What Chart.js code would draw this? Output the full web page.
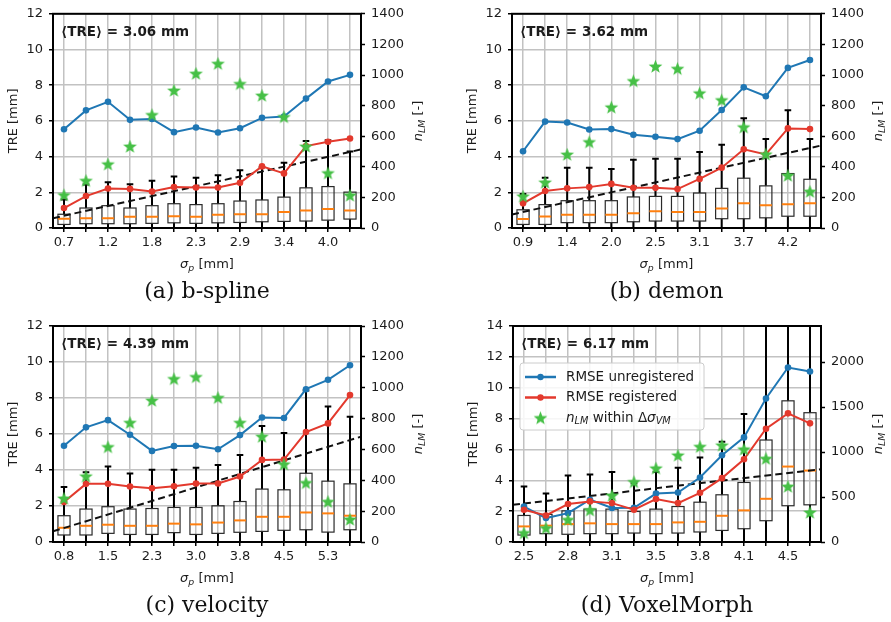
<!DOCTYPE html>
<html>
<head>
<meta charset="utf-8">
<script src="https://cdn.jsdelivr.net/npm/chart.js@4.4.1/dist/chart.umd.min.js"></script>
<style>
  body { margin: 0; background: #fff; width: 891px; height: 622px; position: relative; overflow: hidden; }
  canvas { position: absolute; left: 0; top: 0; }
</style>
</head>
<body>
<canvas id="pa" width="891" height="622"></canvas>
<canvas id="pb" width="891" height="622"></canvas>
<canvas id="pc" width="891" height="622"></canvas>
<canvas id="pd" width="891" height="622"></canvas>
<script>
// (a) b-spline
const ticksA = ['0.7', '', '1.2', '', '1.8', '', '2.3', '', '2.9', '', '3.4', '', '4.0', ''];
const unregA = [5.53, 6.59, 7.07, 6.06, 6.11, 5.37, 5.63, 5.35, 5.59, 6.17, 6.24, 7.25, 8.21, 8.58];
const regA = [1.12, 1.79, 2.21, 2.19, 2.04, 2.30, 2.27, 2.27, 2.53, 3.45, 3.06, 4.59, 4.83, 5.01];
const nlmA = [215, 309, 417, 533, 739, 899, 1009, 1074, 942, 866, 726, 533, 359, 213];
const q1A = [0.20, 0.24, 0.24, 0.24, 0.26, 0.29, 0.26, 0.29, 0.31, 0.35, 0.37, 0.39, 0.44, 0.50];
const medA = [0.52, 0.55, 0.55, 0.63, 0.63, 0.66, 0.63, 0.74, 0.77, 0.77, 0.90, 0.98, 1.07, 0.98];
const q3A = [0.77, 1.12, 1.25, 1.12, 1.25, 1.36, 1.31, 1.36, 1.51, 1.57, 1.73, 2.25, 2.32, 2.01];
const loA = [0, 0, 0, 0, 0, 0, 0, 0, 0, 0, 0, 0, 0, 0];
const hiA = [1.60, 2.43, 2.56, 2.45, 2.65, 2.88, 2.82, 2.95, 3.23, 3.40, 3.65, 4.87, 4.92, 4.28];
const fitA = [0.55, 4.40];

// (b) demon
const ticksB = ['0.9', '', '1.4', '', '2.0', '', '2.5', '', '3.1', '', '3.7', '', '4.2', ''];
const unregB = [4.30, 5.96, 5.91, 5.52, 5.54, 5.22, 5.11, 4.98, 5.45, 6.61, 7.88, 7.38, 8.97, 9.41];
const regB = [1.38, 2.07, 2.22, 2.29, 2.47, 2.25, 2.25, 2.18, 2.75, 3.38, 4.41, 4.12, 5.58, 5.54];
const nlmB = [207, 298, 480, 562, 789, 961, 1056, 1041, 881, 836, 659, 482, 343, 238];
const q1B = [0.20, 0.20, 0.30, 0.30, 0.30, 0.35, 0.39, 0.39, 0.39, 0.52, 0.52, 0.57, 0.66, 0.66];
const medB = [0.50, 0.65, 0.74, 0.74, 0.74, 0.83, 0.94, 0.89, 0.89, 1.09, 1.38, 1.27, 1.33, 1.38];
const q3B = [1.02, 1.31, 1.53, 1.53, 1.53, 1.74, 1.77, 1.77, 1.96, 2.22, 2.79, 2.36, 3.05, 2.73];
const loB = [0, 0, 0, 0, 0, 0, 0, 0, 0, 0, 0, 0, 0, 0];
const hiB = [1.90, 2.82, 3.38, 3.38, 3.30, 3.82, 3.88, 3.88, 4.26, 4.67, 6.15, 4.98, 6.59, 4.98];
const fitB = [0.76, 4.62];

// (c) velocity
const ticksC = ['0.8', '', '1.5', '', '2.3', '', '3.0', '', '3.8', '', '4.5', '', '5.3', ''];
const unregC = [5.35, 6.37, 6.77, 5.96, 5.06, 5.33, 5.35, 5.15, 5.94, 6.92, 6.89, 8.49, 9.01, 9.82];
const regC = [2.22, 3.23, 3.23, 3.08, 2.99, 3.10, 3.25, 3.25, 3.64, 4.56, 4.58, 6.11, 6.59, 8.16];
const nlmC = [282, 426, 616, 773, 917, 1057, 1070, 935, 773, 683, 504, 383, 261, 146];
const q1C = [0.39, 0.39, 0.48, 0.42, 0.42, 0.52, 0.42, 0.48, 0.54, 0.59, 0.65, 0.68, 0.55, 0.68];
const medC = [0.79, 0.90, 0.96, 0.90, 0.90, 1.02, 0.98, 1.08, 1.20, 1.40, 1.40, 1.64, 1.59, 1.46];
const q3C = [1.46, 1.83, 1.96, 1.83, 1.86, 1.92, 1.92, 2.01, 2.25, 2.94, 2.90, 3.82, 3.38, 3.23];
const loC = [0, 0, 0, 0, 0, 0, 0, 0, 0, 0, 0, 0, 0, 0];
const hiC = [3.05, 3.88, 4.19, 3.80, 4.02, 4.02, 4.13, 4.28, 4.84, 6.44, 6.05, 8.42, 7.53, 6.96];
const fitC = [0.59, 5.85];

// (d) VoxelMorph
const ticksD = ['2.5', '', '2.8', '', '3.1', '', '3.5', '', '3.8', '', '4.1', '', '4.5', ''];
const unregD = [2.30, 1.55, 1.87, 2.74, 2.20, 2.22, 3.14, 3.21, 4.18, 5.62, 6.78, 9.30, 11.31, 11.05];
const regD = [2.09, 1.72, 2.46, 2.63, 2.52, 2.09, 2.78, 2.52, 3.19, 4.14, 5.36, 7.34, 8.34, 7.69];
const nlmD = [100, 155, 247, 354, 517, 668, 819, 963, 1059, 1074, 1030, 926, 616, 328];
const q1D = [0.45, 0.54, 0.50, 0.54, 0.54, 0.58, 0.54, 0.58, 0.65, 0.75, 0.86, 1.38, 2.35, 2.41];
const medD = [1.01, 1.06, 1.16, 1.21, 1.16, 1.16, 1.16, 1.27, 1.31, 1.70, 2.05, 2.80, 4.89, 4.63];
const q3D = [1.72, 1.79, 2.02, 2.13, 2.13, 1.98, 2.13, 2.30, 2.58, 3.06, 3.86, 6.61, 9.15, 8.38];
const loD = [0, 0, 0, 0, 0, 0, 0, 0, 0, 0, 0, 0, 0, 0];
const hiD = [3.60, 3.14, 4.31, 4.37, 4.54, 3.80, 4.54, 4.82, 5.47, 6.50, 8.29, 15.0, 15.0, 15.0];
const fitD = [2.41, 4.72];

// right axis (n_LM) ticks
const nTicks1400 = [0, 200, 400, 600, 800, 1000, 1200, 1400];
const nTicksD = [0, 500, 1000, 1500, 2000];

const meanTRE = [3.06, 3.62, 4.39, 6.17];
const captions = ['(a) b-spline', '(b) demon', '(c) velocity', '(d) VoxelMorph'];

const BLUE = '#1f77b4', RED = '#e3392d', GREEN = '#46c046', ORANGE = '#ff7f0e';
const GRID = '#c2c2c2', TXT = '#1c1c1c', FONT = '"DejaVu Sans"';
const YW = 45, Y1W = 45, XH = 30;

// filled star used as point style
function makeStar(r, color) {
  const s = Math.ceil(r * 2 + 2);
  const c = document.createElement('canvas');
  c.width = s; c.height = s;
  const g = c.getContext('2d');
  g.translate(s / 2, s / 2 + 0.5);
  g.beginPath();
  for (let k = 0; k < 10; k++) {
    const rr = k % 2 ? r * 0.42 : r;
    const ang = -Math.PI / 2 + k * Math.PI / 5;
    g.lineTo(rr * Math.cos(ang), rr * Math.sin(ang));
  }
  g.closePath();
  g.fillStyle = color;
  g.fill();
  return c;
}
const star = makeStar(7.2, GREEN);

// text with italic / subscript pieces
function rich(ctx, parts, cx, cy, rot, size, align) {
  ctx.save();
  ctx.translate(cx, cy);
  ctx.rotate(rot);
  let total = 0;
  const m = parts.map(p => {
    const s = p.sub ? size * 0.72 : size;
    const f = (p.i ? 'italic ' : '') + s + 'px ' + FONT;
    ctx.font = f;
    const w = ctx.measureText(p.t).width;
    total += w;
    return { f, w, dy: p.sub ? size * 0.28 : 0 };
  });
  let x = align === 'left' ? 0 : -total / 2;
  ctx.fillStyle = TXT;
  ctx.textBaseline = 'middle';
  ctx.textAlign = 'left';
  parts.forEach((p, k) => {
    ctx.font = m[k].f;
    ctx.fillText(p.t, x, m[k].dy);
    x += m[k].w;
  });
  ctx.restore();
}

const extras = {
  id: 'extras',
  beforeDatasetsDraw(chart, args, o) {
    const { ctx, chartArea: a, scales: { x, y } } = chart;
    const step = x.getPixelForValue(1) - x.getPixelForValue(0);
    const bw = step * 0.55, cw = step * 0.3;
    ctx.save();
    ctx.beginPath();
    ctx.rect(a.left, a.top, a.right - a.left, a.bottom - a.top);
    ctx.clip();
    o.q1.forEach((q1, i) => {
      const px = x.getPixelForValue(i);
      const p1 = y.getPixelForValue(q1), p3 = y.getPixelForValue(o.q3[i]);
      const pm = y.getPixelForValue(o.med[i]);
      const plo = y.getPixelForValue(o.lo[i]), phi = y.getPixelForValue(o.hi[i]);
      ctx.strokeStyle = '#000';
      ctx.lineWidth = 2;
      ctx.beginPath();
      ctx.moveTo(px, p3); ctx.lineTo(px, phi);
      ctx.moveTo(px, p1); ctx.lineTo(px, plo);
      ctx.moveTo(px - cw / 2, phi); ctx.lineTo(px + cw / 2, phi);
      ctx.moveTo(px - cw / 2, plo); ctx.lineTo(px + cw / 2, plo);
      ctx.stroke();
      ctx.strokeStyle = '#2a2a2a';
      ctx.lineWidth = 1.2;
      ctx.strokeRect(px - bw / 2, p3, bw, p1 - p3);
      ctx.strokeStyle = ORANGE;
      ctx.lineWidth = 2;
      ctx.beginPath();
      ctx.moveTo(px - bw / 2, pm); ctx.lineTo(px + bw / 2, pm);
      ctx.stroke();
    });
    ctx.restore();
  },
  afterDraw(chart, args, o) {
    const { ctx, chartArea: a } = chart;
    const midY = (a.top + a.bottom) / 2;
    ctx.save();
    ctx.strokeStyle = '#000';
    ctx.lineWidth = 2;
    ctx.strokeRect(a.left, a.top, a.right - a.left, a.bottom - a.top);

    rich(ctx, [{ t: 'TRE [mm]' }], a.left - 39, midY, -Math.PI / 2, 13);
    rich(ctx, [{ t: 'n', i: 1 }, { t: 'LM', i: 1, sub: 1 }, { t: ' [-]' }], a.right + 58, midY, -Math.PI / 2, 13);
    rich(ctx, [{ t: 'σ', i: 1 }, { t: 'p', i: 1, sub: 1 }, { t: ' [mm]' }], (a.left + a.right) / 2, a.bottom + 37, 0, 13);

    ctx.fillStyle = TXT;
    ctx.textAlign = 'left';
    ctx.textBaseline = 'alphabetic';
    ctx.font = 'bold 13.5px ' + FONT;
    ctx.fillText('⟨TRE⟩ = ' + o.mean.toFixed(2) + ' mm', a.left + 8, a.top + 22);

    ctx.font = '22px "DejaVu Serif"';
    ctx.textAlign = 'center';
    ctx.fillStyle = '#111';
    ctx.fillText(o.caption, (a.left + a.right) / 2, a.bottom + 70);

    if (o.legend) {
      const lx = a.left + 7, ly = a.top + 37, lw = 184, lh = 67;
      ctx.fillStyle = 'rgba(255,255,255,0.85)';
      ctx.strokeStyle = '#cccccc';
      ctx.lineWidth = 1;
      ctx.beginPath();
      ctx.roundRect(lx, ly, lw, lh, 3);
      ctx.fill();
      ctx.stroke();
      const rows = [
        { ds: 0, parts: [{ t: 'RMSE unregistered' }] },
        { ds: 1, parts: [{ t: 'RMSE registered' }] },
        { ds: 2, parts: [{ t: 'n', i: 1 }, { t: 'LM', i: 1, sub: 1 }, { t: ' within Δ' }, { t: 'σ', i: 1 }, { t: 'VM', i: 1, sub: 1 }] }
      ];
      rows.forEach((r, k) => {
        const ry = ly + 14 + k * 20.5;
        const ds = chart.data.datasets[r.ds];
        if (ds.showLine === false) {
          ctx.drawImage(star, lx + 20.5 - star.width / 2, ry - star.height / 2);
        } else {
          ctx.strokeStyle = ds.borderColor;
          ctx.lineWidth = 2.5;
          ctx.beginPath();
          ctx.moveTo(lx + 5, ry); ctx.lineTo(lx + 36, ry);
          ctx.stroke();
          ctx.fillStyle = ds.borderColor;
          ctx.beginPath();
          ctx.arc(lx + 20.5, ry, 3.2, 0, Math.PI * 2);
          ctx.fill();
        }
        rich(ctx, r.parts, lx + 46, ry, 0, 13.5, 'left');
      });
    }
    ctx.restore();
  }
};

function panel(id, area, d) {
  const pts = arr => arr.map((v, i) => ({ x: i, y: v }));
  const tickFont = { family: FONT, size: 13 };
  new Chart(document.getElementById(id), {
    type: 'line',
    data: {
      datasets: [
        { label: 'RMSE unregistered', data: pts(d.unreg), borderColor: BLUE, backgroundColor: BLUE,
          borderWidth: 2, pointRadius: 3.3, pointBorderWidth: 0, order: 2 },
        { label: 'RMSE registered', data: pts(d.reg), borderColor: RED, backgroundColor: RED,
          borderWidth: 2, pointRadius: 3.3, pointBorderWidth: 0, order: 1 },
        { label: 'n_LM within Δσ_VM', data: pts(d.nlm), yAxisID: 'y1', showLine: false,
          pointStyle: star, pointRadius: 6, borderColor: GREEN, backgroundColor: GREEN, order: 0 },
        { label: 'fit', data: [{ x: -0.5, y: d.fit[0] }, { x: d.ticks.length - 0.5, y: d.fit[1] }],
          borderColor: '#111', borderDash: [7, 4], borderWidth: 2, pointRadius: 0, order: 3 }
      ]
    },
    options: {
      responsive: false,
      animation: false,
      events: [],
      layout: { padding: { left: area[0] - YW, top: area[1], right: 891 - area[2] - Y1W, bottom: 622 - area[3] - XH } },
      plugins: {
        legend: { display: false },
        tooltip: { enabled: false },
        extras: { q1: d.q1, med: d.med, q3: d.q3, lo: d.lo, hi: d.hi, mean: d.mean, caption: d.caption, legend: !!d.legend }
      },
      scales: {
        x: {
          type: 'linear', bounds: 'data', min: -0.5, max: d.ticks.length - 0.5,
          afterBuildTicks: s => { s.ticks = d.ticks.map((_, i) => ({ value: i })); },
          afterFit: s => { s.height = XH; },
          ticks: { autoSkip: false, maxRotation: 0, padding: 3, color: TXT, font: tickFont, callback: v => d.ticks[v] },
          grid: { color: GRID, lineWidth: 1.5, tickColor: '#000', tickLength: 4, tickWidth: 1.5 },
          border: { display: false }
        },
        y: {
          min: 0, max: d.yMax,
          afterFit: s => { s.width = YW; },
          ticks: { stepSize: 2, padding: 6, color: TXT, font: tickFont },
          grid: { color: GRID, lineWidth: 1.5, tickColor: '#000', tickLength: 4, tickWidth: 1.5 },
          border: { display: false }
        },
        y1: {
          position: 'right', min: 0, max: d.y1Max,
          afterBuildTicks: s => { s.ticks = d.y1Ticks.map(v => ({ value: v })); },
          afterFit: s => { s.width = Y1W; },
          ticks: { autoSkip: false, padding: 6, color: TXT, font: tickFont, callback: v => String(v) },
          grid: { drawOnChartArea: false, tickColor: '#000', tickLength: 4, tickWidth: 1.5 },
          border: { display: false }
        }
      }
    },
    plugins: [extras]
  });
}

panel('pa', [53, 11, 361, 228], { ticks: ticksA, unreg: unregA, reg: regA, nlm: nlmA, q1: q1A, med: medA, q3: q3A, lo: loA, hi: hiA,
  fit: fitA, mean: meanTRE[0], caption: captions[0], yMax: 12, y1Max: 1400, y1Ticks: nTicks1400 });
panel('pb', [512, 11, 821, 228], { ticks: ticksB, unreg: unregB, reg: regB, nlm: nlmB, q1: q1B, med: medB, q3: q3B, lo: loB, hi: hiB,
  fit: fitB, mean: meanTRE[1], caption: captions[1], yMax: 12, y1Max: 1400, y1Ticks: nTicks1400 });
panel('pc', [53, 326, 361, 542], { ticks: ticksC, unreg: unregC, reg: regC, nlm: nlmC, q1: q1C, med: medC, q3: q3C, lo: loC, hi: hiC,
  fit: fitC, mean: meanTRE[2], caption: captions[2], yMax: 12, y1Max: 1400, y1Ticks: nTicks1400 });
panel('pd', [513, 326, 821, 542], { ticks: ticksD, unreg: unregD, reg: regD, nlm: nlmD, q1: q1D, med: medD, q3: q3D, lo: loD, hi: hiD,
  fit: fitD, mean: meanTRE[3], caption: captions[3], yMax: 14, y1Max: 2400, y1Ticks: nTicksD, legend: true });
</script>
</body>
</html>
